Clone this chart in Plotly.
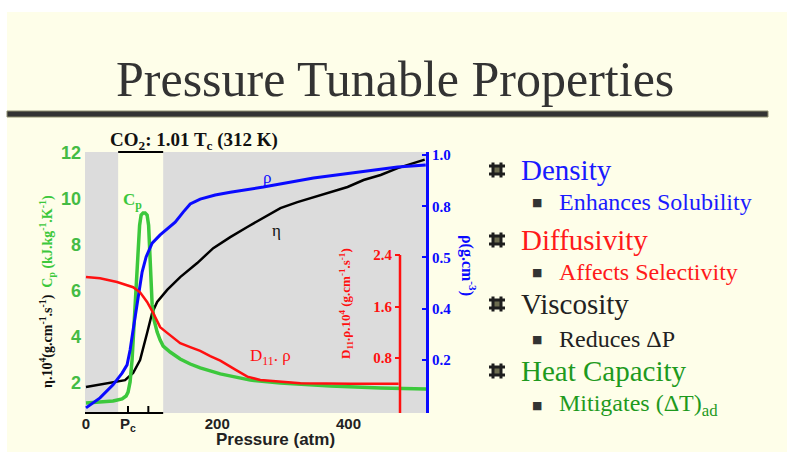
import plotly.graph_objects as go

# ---------------- data ----------------
# Heat capacity Cp (kJ/kg/K) vs pressure (atm)
cp_p = [0, 21.4, 41.2, 55.0, 61.1, 64.1, 67.2, 70.2, 72.5, 74.8, 77.1, 79.4, 81.7, 84.0, 87.0,
        90.1, 93.1, 95.4, 96.9, 98.5, 100.8, 103.8, 108.4, 113.0, 117.6, 128.2, 143.5, 158.8,
        174.0, 204.6, 250.4, 296.2, 372.5, 448.9, 519]
cp_val = [1.13, 1.18, 1.22, 1.31, 1.44, 1.61, 2.05, 3.0, 4.31, 5.61, 6.7, 7.79, 8.87, 9.31, 9.4,
          9.4, 9.31, 8.87, 7.79, 6.48, 5.4, 4.74, 4.22, 3.87, 3.61, 3.35, 3.05, 2.83,
          2.66, 2.4, 2.13, 2.0, 1.87, 1.79, 1.74]

# Density rho (g/cm3)
rho_p = [0, 21.4, 41.2, 55.0, 62.6, 67.2, 71.8, 76.3, 80.9, 85.5, 91.6, 100.8, 113.0, 123.7,
         135.9, 148.1, 158.8, 174.0, 196.9, 219.8, 270.2, 346.6, 422.9, 474.8, 517.6]
rho_val = [0.012, 0.051, 0.102, 0.148, 0.18, 0.238, 0.316, 0.395, 0.473, 0.543, 0.602, 0.656,
           0.688, 0.711, 0.738, 0.777, 0.809, 0.828, 0.844, 0.855, 0.875, 0.91, 0.934, 0.953, 0.961]

# Viscosity eta x 10^4 (g/cm/s)
eta_p = [0, 36.6, 59.5, 71.8, 82.4, 93.1, 100.8, 108.4, 123.7, 143.5, 169.5, 193.9, 219.8,
         245.8, 270.2, 296.2, 322.1, 346.6, 372.5, 398.5, 422.9, 448.9, 474.8, 499.2, 516.0]
eta_val = [1.83, 2.0, 2.13, 2.44, 3.0, 4.18, 5.05, 5.53, 6.05, 6.61, 7.22, 7.87, 8.35,
           8.79, 9.18, 9.61, 9.87, 10.09, 10.31, 10.53, 10.83, 11.05, 11.35, 11.57, 11.72]

# Diffusivity D11.rho x 10^4 (g/cm/s)
d_p = [0, 21.4, 47.3, 71.8, 82.4, 93.1, 102.3, 113.0, 123.7, 143.5, 158.8, 174.0, 189.3,
       204.6, 227.5, 245.8, 265.6, 296.2, 326.7, 403.1, 476.3]
d_val = [2.06, 2.04, 1.98, 1.90, 1.82, 1.67, 1.50, 1.28, 1.19, 1.03, 0.97, 0.91, 0.83,
         0.76, 0.62, 0.51, 0.46, 0.43, 0.41, 0.40, 0.40]

# shaded pressure bands (atm)
gray_bands = [(-1.5, 49.0), (117.6, 518.0)]
near_crit = (49.0, 117.6)
pc_ticks = [64.0, 95.0]

x_tick_vals = [0, 64.0, 200, 400]
x_tick_text = ["0", "P<sub>c</sub>", "200", "400"]
left_ticks = [2, 4, 6, 8, 10, 12]
rho_tick_vals = [0.2, 0.4, 0.6, 0.8, 1.0]
rho_tick_text = ["0.2", "0.4", "0.5", "0.8", "1.0"]
d_ticks = [0.8, 1.6, 2.4]
d_axis_top = 2.4

bullets = [
    ("main", "Density", "#1a1aff", 170),
    ("sub", "Enhances Solubility", "#1a1aff", 202),
    ("main", "Diffusivity", "#ff1a1a", 240),
    ("sub", "Affects Selectivity", "#ff1a1a", 272),
    ("main", "Viscosity", "#222222", 304),
    ("sub", "Reduces ΔP", "#222222", 339),
    ("main", "Heat Capacity", "#1e9a1e", 371),
    ("sub", "Mitigates (ΔT)<sub>ad</sub>", "#1e9a1e", 405),
]

# ---------------- styling ----------------
W_FIG, H_FIG = 787, 452
L, R, T, B = 85, 426, 152, 413   # plot rectangle (px)
CREAM = "#fefee9"
GRAY = "#dcdcdc"
GREEN = "#3cc83c"
GREEN_TXT = "#44bb44"
BLUE = "#0a0aff"
RED = "#ff1010"
SERIF = "Liberation Serif"
SANS = "Liberation Sans"


def fx(px):
    return (px - L) / (R - L)


def fy(py):
    return (B - py) / (B - T)


fig = go.Figure()
fig.add_trace(go.Scatter(x=d_p, y=d_val, yaxis="y3", mode="lines",
                         line=dict(color=RED, width=2.5), hoverinfo="skip"))
fig.add_trace(go.Scatter(x=eta_p, y=eta_val, yaxis="y", mode="lines",
                         line=dict(color="#000000", width=2.5), hoverinfo="skip"))
fig.add_trace(go.Scatter(x=rho_p, y=rho_val, yaxis="y2", mode="lines",
                         line=dict(color=BLUE, width=3), hoverinfo="skip"))
fig.add_trace(go.Scatter(x=cp_p, y=cp_val, yaxis="y", mode="lines",
                         line=dict(color=GREEN, width=3.5), hoverinfo="skip"))

shapes = []
# white slide border (top and left)
shapes.append(dict(type="rect", xref="paper", yref="paper", x0=fx(0), x1=fx(W_FIG),
                   y0=fy(12), y1=fy(0), fillcolor="white", line_width=0, layer="below"))
shapes.append(dict(type="rect", xref="paper", yref="paper", x0=fx(0), x1=fx(7),
                   y0=fy(H_FIG), y1=fy(0), fillcolor="white", line_width=0, layer="below"))
# title rule
shapes.append(dict(type="rect", xref="paper", yref="paper", x0=fx(7), x1=fx(768),
                   y0=fy(117), y1=fy(111), fillcolor="#333333",
                   line=dict(color="#8f8f70", width=1), layer="below"))
for a, b in gray_bands:
    shapes.append(dict(type="rect", xref="x", yref="paper", x0=a, x1=b, y0=0, y1=1,
                       fillcolor=GRAY, line_width=0, layer="below"))
# bracket above the near-critical band
shapes.append(dict(type="line", xref="x", yref="paper", x0=near_crit[0], x1=near_crit[1],
                   y0=1, y1=1, line=dict(color="black", width=2), layer="above"))
# short x-axis line and Pc ticks
shapes.append(dict(type="line", xref="x", yref="paper", x0=-1.5, x1=near_crit[1],
                   y0=0, y1=0, line=dict(color="black", width=2), layer="above"))
for t in pc_ticks:
    shapes.append(dict(type="line", xref="x", yref="paper", x0=t, x1=t,
                       y0=0, y1=fy(406), line=dict(color="black", width=2), layer="above"))
# diffusivity axis spine
shapes.append(dict(type="line", xref="paper", yref="y3", x0=fx(400), x1=fx(400),
                   y0=-0.054, y1=d_axis_top, line=dict(color=RED, width=2.5), layer="above"))


def hash_bullet(cx, cy):
    """Grid-shaped bullet: olive square with four thick bars."""
    out = [dict(type="rect", xref="paper", yref="paper", x0=fx(cx - 4), x1=fx(cx + 4),
                y0=fy(cy + 4), y1=fy(cy - 4), fillcolor="#6d6d50", line_width=0)]
    for d in (-4, 4):
        out.append(dict(type="line", xref="paper", yref="paper", x0=fx(cx + d), x1=fx(cx + d),
                        y0=fy(cy + 7.5), y1=fy(cy - 7.5), line=dict(color="#1e1e1e", width=3)))
        out.append(dict(type="line", xref="paper", yref="paper", x0=fx(cx - 8), x1=fx(cx + 8),
                        y0=fy(cy + d), y1=fy(cy + d), line=dict(color="#1e1e1e", width=3)))
    return out


ann = []


def text(px, py, s, size, color, family=SERIF, weight="normal", angle=0, xanchor="center"):
    ann.append(dict(x=fx(px), y=fy(py), xref="paper", yref="paper", text=s, showarrow=False,
                    xanchor=xanchor, yanchor="middle", textangle=angle,
                    font=dict(family=family, size=size, color=color, weight=weight)))


text(395, 79, "Pressure Tunable Properties", 50, "#333333")
text(194, 141, "CO<sub>2</sub>: 1.01 T<sub>c</sub> (312 K)", 19, "#111111", weight="bold")
text(132, 201, "C<sub>p</sub>", 17, GREEN, weight="bold")
text(267, 177, "ρ", 17, BLUE)
text(276, 230, "η", 17, "#111111")
text(270, 357, "D<sub>11</sub>. ρ", 17, RED)
text(275, 439, "Pressure (atm)", 17, "#222222", family=SANS, weight="bold")
text(47, 292, "<span style='color:#111111'>η.10<sup>4</sup>(g.cm<sup>-1</sup>.s<sup>-1</sup>)</span>"
     "  <span style='color:" + GREEN + "'>C<sub>p</sub> (kJ.kg<sup>-1</sup>.K<sup>-1</sup>)</span>",
     14, "#111111", weight="bold", angle=-90)
text(346, 304, "D<sub>11</sub>.ρ.10<sup>4</sup> (g.cm<sup>-1</sup>.s<sup>-1</sup>)", 13, RED,
     weight="bold", angle=-90)
text(469, 265, "ρ(g.cm<sup>-3</sup>)", 16, BLUE, weight="bold", angle=90)

for kind, label, color, yc in bullets:
    if kind == "main":
        shapes.extend(hash_bullet(497, yc))
        text(519, yc, label, 29, color, xanchor="left")
    else:
        text(537, yc, "■", 11, "#333333", family="DejaVu Sans")
        text(557, yc, label, 24, color, xanchor="left")

fig.update_layout(
    width=W_FIG, height=H_FIG, autosize=False,
    margin=dict(l=L, r=W_FIG - R, t=T, b=H_FIG - B, pad=0),
    paper_bgcolor=CREAM, plot_bgcolor="rgba(0,0,0,0)",
    showlegend=False, shapes=shapes, annotations=ann,
    xaxis=dict(range=[-1.5, 518], showgrid=False, zeroline=False, showline=False,
               tickvals=x_tick_vals, ticktext=x_tick_text, ticks="",
               tickfont=dict(family=SANS, size=15, color="#222222", weight="bold")),
    yaxis=dict(range=[0.7, 12.05], showgrid=False, zeroline=False, showline=False,
               tickvals=left_ticks, ticks="", ticklabelstandoff=3,
               tickfont=dict(family=SANS, size=18, color=GREEN_TXT, weight="bold")),
    yaxis2=dict(overlaying="y", side="right", range=[-0.008, 1.012], showgrid=False,
                zeroline=False, showline=True, linecolor=BLUE, linewidth=3,
                ticks="inside", ticklen=4, tickwidth=2, tickcolor=BLUE,
                tickvals=rho_tick_vals, ticktext=rho_tick_text,
                tickfont=dict(family=SERIF, size=15, color=BLUE, weight="bold")),
    yaxis3=dict(overlaying="y", anchor="free", position=fx(400), side="left",
                range=[-0.054, 4.0], showgrid=False, zeroline=False, showline=False,
                ticks="outside", ticklen=5, tickwidth=2, tickcolor=RED, tickvals=d_ticks,
                tickfont=dict(family=SERIF, size=15, color=RED, weight="bold")),
)

fig.write_html("out.html")
